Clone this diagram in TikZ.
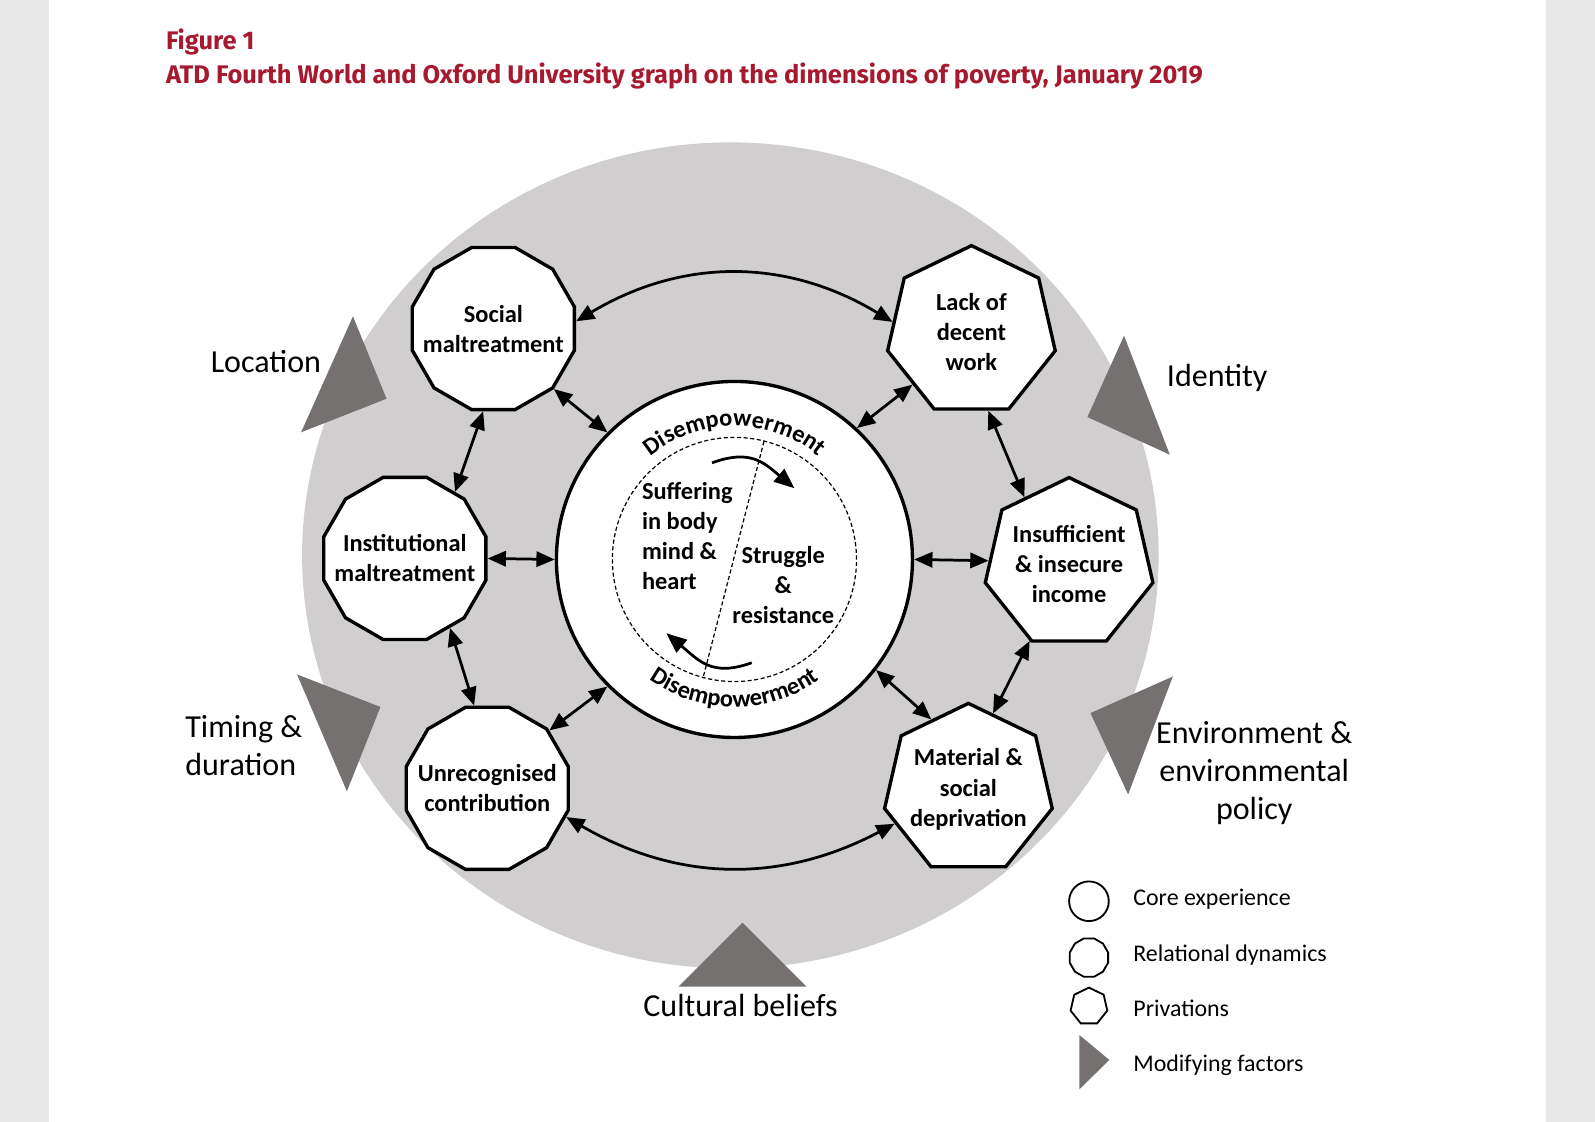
\documentclass[tikz,border=0pt]{standalone}
\usepackage{fontspec}
\setmainfont{Carlito}
\newfontfamily\titlefont{Fira Sans}
\usetikzlibrary{shapes.geometric,arrows.meta,decorations.text}
\pgfdeclarelayer{back}
\pgfdeclarelayer{bg}
\pgfsetlayers{back,bg,main}
\definecolor{atdred}{HTML}{A6192E}
\definecolor{ringgray}{HTML}{D0CECE}
\definecolor{factorgray}{HTML}{767171}
\definecolor{stripgray}{HTML}{E8E8E8}
\newcommand\dispfont{\fontsize{24}{28}\selectfont\bfseries}
\tikzset{
  dimfont/.style={font=\fontsize{24}{29.5}\selectfont\bfseries, inner sep=0pt},
  inside/.style={label={[dimfont, align=center]center:#1}},
  relational/.style={regular polygon, regular polygon sides=12, draw, line width=3.3pt, fill=white, minimum size=165pt, inner sep=0pt, inside={#1}},
  privation/.style={regular polygon, regular polygon sides=7, draw, line width=3.3pt, fill=white, minimum size=169pt, inner sep=0pt, inside={#1}},
  core/.style={circle, draw, line width=3.3pt, fill=white, minimum size=350pt, inner sep=0pt},
  link/.style={{Triangle[length=18pt,width=15pt]}-{Triangle[length=18pt,width=15pt]}, line width=2.7pt},
  swirl/.style={-{Triangle[length=20pt,width=16pt]}, line width=2.7pt},
  divider/.style={line width=1.2pt, dash pattern=on 4pt off 2.5pt},
  factor/.style={font=\fontsize{31.5}{37}\selectfont, inner sep=0pt},
  keytext/.style={font=\fontsize{23.5}{28}\selectfont, anchor=base west, inner sep=0pt},
  keyshape/.style={draw, line width=1.8pt, inner sep=0pt},
  heading/.style={anchor=base west, text=atdred, inner sep=0pt, font=\titlefont\bfseries\fontsize{25}{29}\selectfont},
}
\begin{document}
\begin{tikzpicture}[x=1pt,y=1pt]
        \useasboundingbox (0,0) rectangle (1568,1103);
        \begin{pgfonlayer}{back}
                \fill[stripgray] (0,0) rectangle (48,1103);
                \fill[stripgray] (1520,0) rectangle (1568,1103);
                \fill[ringgray] (718,557) ellipse [x radius=421, y radius=406];
                \fill[factorgray] (347,792) -- (380,711) -- (296,678) -- cycle;
                \fill[factorgray] (292,440) -- (374,408) -- (341,325) -- cycle;
                \fill[factorgray] (1105,773) -- (1069,693) -- (1150,656) -- cycle;
                \fill[factorgray] (1153,438) -- (1072,402) -- (1109,322) -- cycle;
                \fill[factorgray] (730,196) -- (667,133) -- (793,133) -- cycle;
                \fill[factorgray] (1061,85.6) -- (1090.5,61) -- (1061,32) -- cycle;
        \end{pgfonlayer}
        \node (fig) [heading] at (163,1054.5) {Figure 1};
        \node (title) [heading] at (163,1021) {ATD Fourth World and Oxford University graph on the dimensions of poverty, January 2019};
        \node (core) [core] at (722,553) {};
        \node (soc) [relational={Social\\maltreatment}] at (485,780) {};
        \node (inst) [relational={Institutional\\maltreatment}] at (398,554) {};
        \node (unrec) [relational={Unrecognised\\contribution}] at (479,328) {};
        \node (lack) [privation={Lack of\\decent\\work}] at (955,777) {};
        \node (ins) [privation={Insufficient\\\& insecure\\income}] at (1051,549) {};
        \node (mat) [privation={Material \&\\social\\deprivation}] at (952,327) {};
        \draw[divider] (core.center) circle [radius=120];
        \coordinate (cut1) at (751,669);
        \coordinate (cut2) at (691,436);
        \draw[divider] (cut1) -- (cut2);
        \node (suff) [dimfont, align=left, anchor=base west] at (631,523) {Suffering\\in body\\mind \&\\heart};
        \node (strug) [dimfont, align=center, anchor=base] at (770,490.3) {Struggle\\\&\\resistance};
        \coordinate (s1) at (700,648);
        \coordinate (s2) at (781,623);
        \coordinate (r1) at (739,451.5);
        \coordinate (r2) at (655,480.5);
        \draw[swirl] (s1) to[out=20, in=140, looseness=1.2] (s2);
        \draw[swirl] (r1) to[out=200, in=-40, looseness=1.2] (r2);
        \path[decorate, decoration={text along path, text align=center, text={|\dispfont|Disempowerment}}] ([shift={(160:131)}]core.center) arc [start angle=160, end angle=20, radius=131];
        \path[decorate, decoration={text along path, text align=center, text={|\dispfont|Disempowerment}}] ([shift={(200:145)}]core.center) arc [start angle=200, end angle=340, radius=145];
        \node (loc) [factor, anchor=base west] at (207,737) {Location};
        \node (tim) [factor, anchor=base west, align=left] at (182,341) {Timing \&\\duration};
        \node (iden) [factor, anchor=base west] at (1147,723.5) {Identity};
        \node (env) [factor, anchor=base, align=center] at (1233,297.6) {Environment \&\\environmental\\policy};
        \node (cult) [factor, anchor=base] at (728,104) {Cultural beliefs};
        \node (kcore) [keyshape, circle, minimum size=39pt] at (1070.5,217) {};
        \node (krel) [keyshape, regular polygon, regular polygon sides=12, minimum size=39pt] at (1070.5,161.6) {};
        \node (kpriv) [keyshape, regular polygon, regular polygon sides=7, minimum size=37pt] at (1070.5,113.6) {};
        \node (tcore) [keytext] at (1114,212.4) {Core experience};
        \node (trel) [keytext] at (1114,157.6) {Relational dynamics};
        \node (tpriv) [keytext] at (1114,103.6) {Privations};
        \node (tmod) [keytext] at (1114,49.5) {Modifying factors};
        \begin{pgfonlayer}{bg}
                \draw (soc.5) edge [link, bend left=31] (lack.173);
                \draw (unrec.-20) edge [link, bend right=29] (mat.205);
                \draw (soc.-45) edge [link] (core.135);
                \draw (inst.53) edge [link] (soc.263);
                \draw (inst.east) edge [link] (core.west);
                \draw (inst.-57) edge [link] (unrec.99);
                \draw (unrec.43) edge [link] (core.225);
                \draw (lack.222) edge [link] (core.47);
                \draw (lack.-78) edge [link] (ins.124);
                \draw (core.east) edge [link] (ins.178);
                \draw (ins.243) edge [link] (mat.72);
                \draw (core.-38) edge [link] (mat.118);
        \end{pgfonlayer}
\end{tikzpicture}
\end{document}
